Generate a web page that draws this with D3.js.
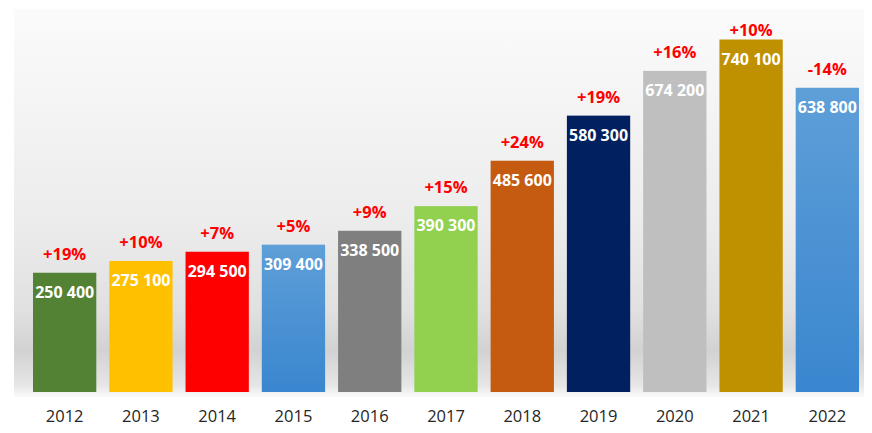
<!DOCTYPE html>
<html>
<head>
<meta charset="utf-8">
<script src="https://cdn.jsdelivr.net/npm/d3@7"></script>
<style>
  body { margin: 0; background: #fff; }
  svg { display: block; }
  .val { font-family: "Open Sans", sans-serif; font-weight: bold; font-size: 16px; fill: #fff; }
  .pct { font-family: "Open Sans", sans-serif; font-weight: bold; font-size: 16.5px; fill: #ff0000; }
  .year { font-family: "Open Sans", sans-serif; font-size: 16.5px; fill: #262626; }
</style>
</head>
<body>
<div id="container"><svg></svg></div>
<script>
const years = ["2012", "2013", "2014", "2015", "2016", "2017", "2018", "2019", "2020", "2021", "2022"];
const values = [250400, 275100, 294500, 309400, 338500, 390300, 485600, 580300, 674200, 740100, 638800];
const changes = ["+19%", "+10%", "+7%", "+5%", "+9%", "+15%", "+24%", "+19%", "+16%", "+10%", "-14%"];
const barColors = ["#548235", "#ffc000", "#ff0000", "url(#blue)", "#7f7f7f", "#92d050",
  "#c55a11", "#002060", "#bfbfbf", "#bf9000", "url(#blue)"];

const width = 872, height = 433;
const svg = d3.select("#container svg").attr("width", width).attr("height", height);

const defs = svg.append("defs");
const bg = defs.append("linearGradient").attr("id", "bg")
  .attr("x1", 0).attr("y1", 0).attr("x2", 0).attr("y2", 1);
bg.append("stop").attr("offset", "0%").attr("stop-color", "#fbfbfb");
bg.append("stop").attr("offset", "55%").attr("stop-color", "#ececec");
bg.append("stop").attr("offset", "78%").attr("stop-color", "#e0e0e0");
bg.append("stop").attr("offset", "88%").attr("stop-color", "#d2d2d2");
bg.append("stop").attr("offset", "97%").attr("stop-color", "#e6e6e6");
bg.append("stop").attr("offset", "100%").attr("stop-color", "#fafafa");

const blue = defs.append("linearGradient").attr("id", "blue")
  .attr("x1", 0).attr("y1", 0).attr("x2", 0).attr("y2", 1);
blue.append("stop").attr("offset", "0%").attr("stop-color", "#5e9fd8");
blue.append("stop").attr("offset", "100%").attr("stop-color", "#3a86cf");

// backdrop panel
svg.append("rect")
  .attr("x", 14).attr("y", 9).attr("width", 850).attr("height", 388)
  .attr("fill", "url(#bg)");

const x = d3.scaleBand()
  .domain(years)
  .range([33, 859])
  .paddingInner(0.17)
  .paddingOuter(0);

const y = d3.scaleLinear().domain([0, 800000]).range([392, 11]);

const g = svg.append("g");

g.selectAll("rect.bar")
  .data(values)
  .enter()
  .append("rect")
  .attr("class", "bar")
  .attr("x", (d, i) => x(years[i]))
  .attr("y", (d) => y(d))
  .attr("width", x.bandwidth())
  .attr("height", (d) => y(0) - y(d))
  .attr("fill", (d, i) => barColors[i]);

const fmt = (v) => d3.format(",")(v).replace(/,/g, " ");

g.selectAll("text.val")
  .data(values)
  .enter()
  .append("text")
  .attr("class", "val")
  .attr("text-anchor", "middle")
  .attr("x", (d, i) => x(years[i]) + x.bandwidth() / 2)
  .attr("y", (d) => y(d) + 25)
  .text((d) => fmt(d));

// labels sit above the bar, pushed down near the top edge
g.selectAll("text.pct")
  .data(values)
  .enter()
  .append("text")
  .attr("class", "pct")
  .attr("text-anchor", "middle")
  .attr("x", (d, i) => x(years[i]) + x.bandwidth() / 2)
  .attr("y", (d) => Math.max(y(d) - 13, 36))
  .text((d, i) => changes[i]);

const xAxis = svg.append("g")
  .attr("transform", `translate(0, ${y(0)})`)
  .call(d3.axisBottom(x).tickSize(0).tickPadding(13));
xAxis.select(".domain").remove();
xAxis.selectAll("text").attr("class", "year").attr("dy", "1em")
  .attr("font-family", null).attr("font-size", null);
</script>
</body>
</html>
